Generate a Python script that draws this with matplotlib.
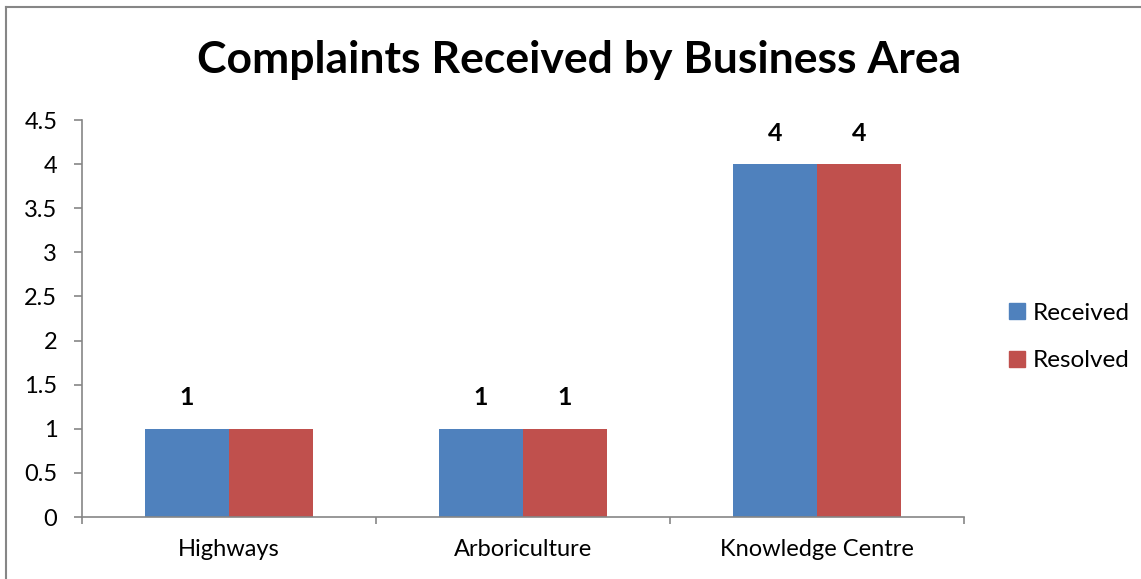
import numpy as np
import matplotlib.pyplot as plt
from matplotlib.lines import Line2D
from matplotlib.patches import Patch

categories = ["Highways", "Arboriculture", "Knowledge Centre"]
received = [1, 1, 4]
resolved = [1, 1, 4]
# the source chart shows no label over the Highways "Resolved" bar
show_received = [True, True, True]
show_resolved = [False, True, True]
yticks = [0, 0.5, 1, 1.5, 2, 2.5, 3, 3.5, 4, 4.5]

blue = "#4F81BD"
red = "#C0504D"
grey = "#868686"
fnt = "Lato"

W, H = 1141, 579
fig = plt.figure(figsize=(W / 100, H / 100), dpi=100)
ax = fig.add_axes([82 / W, (H - 517) / H, (964 - 82) / W, (517 - 120) / H])

x = np.arange(len(categories))
bw = 84 / 294
ax.bar(x - bw / 2, received, bw, color=blue, label="Received")
ax.bar(x + bw / 2, resolved, bw, color=red, label="Resolved")

for i in range(len(categories)):
    if show_received[i]:
        ax.annotate(str(received[i]), (x[i] - bw / 2, received[i]), xytext=(0, 31),
                    textcoords="offset pixels", ha="center", va="center",
                    fontsize=18, fontweight="bold", family=fnt)
    if show_resolved[i]:
        ax.annotate(str(resolved[i]), (x[i] + bw / 2, resolved[i]), xytext=(0, 31),
                    textcoords="offset pixels", ha="center", va="center",
                    fontsize=18, fontweight="bold", family=fnt)

ax.set_xlim(-0.5, len(categories) - 0.5)
ax.set_ylim(0, 4.5)
ax.set_yticks(yticks)
ax.set_yticklabels([("%g" % t) for t in yticks], fontsize=17, family=fnt)
ax.set_xticks(x)
ax.set_xticklabels(categories, fontsize=17, family=fnt)
ax.set_xticks(np.arange(len(categories) + 1) - 0.5, minor=True)
ax.tick_params(axis="x", which="major", length=0, pad=16)
ax.tick_params(axis="x", which="minor", length=5, color=grey, width=1.2)
ax.tick_params(axis="y", length=5.8, color=grey, width=1.2, pad=12)
for s in ["top", "right"]:
    ax.spines[s].set_visible(False)
for s in ["left", "bottom"]:
    ax.spines[s].set_color(grey)
    ax.spines[s].set_linewidth(1.2)

fig.text(579 / W, 1 - 60 / H, "Complaints Received by Business Area", ha="center",
         va="center", fontsize=32, fontweight="bold", family=fnt)

handles = [Patch(color=blue), Patch(color=red)]
fig.legend(handles, ["Received", "Resolved"], loc="center left",
           bbox_to_anchor=(1002 / W, 1 - 337 / H), frameon=False,
           prop={"family": fnt, "size": 17.5}, handlelength=0.65, handleheight=0.65,
           handletextpad=0.3, labelspacing=1.1, borderaxespad=0, borderpad=0.3)

# outer chart frame
fig.add_artist(Line2D([6 / W, 6 / W], [0, 1 - 7 / H], color=grey, lw=1.5))
fig.add_artist(Line2D([6 / W, 1], [1 - 7 / H, 1 - 7 / H], color=grey, lw=1.5))

fig.savefig("out.png", dpi=100)
